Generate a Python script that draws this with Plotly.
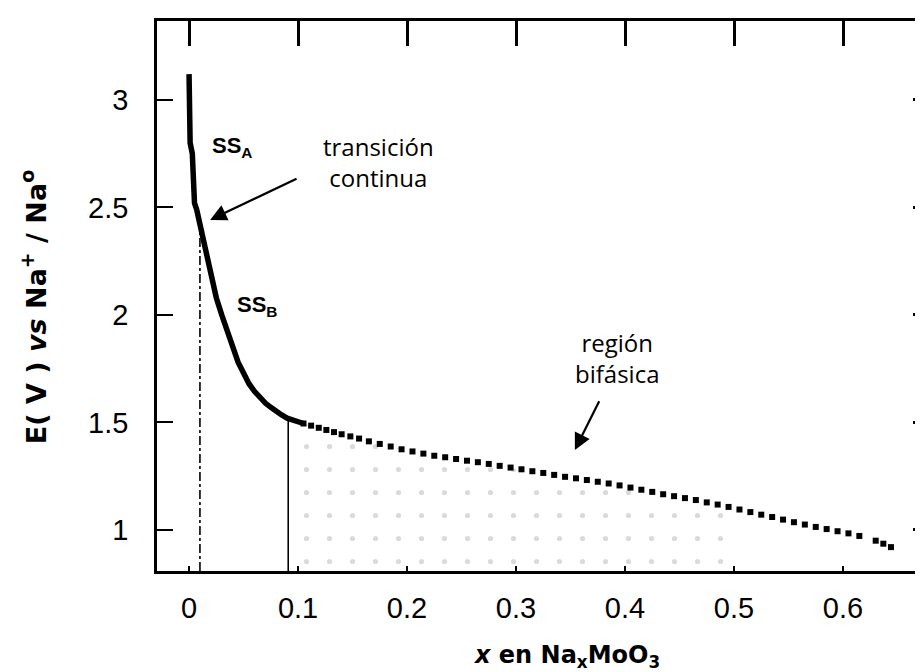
import plotly.graph_objects as go

# ---- data ----
# continuous solid-solution branch (SSA + SSB), dense points drawn as a thick line
x_solid = [0.000, 0.000, 0.0005, 0.001, 0.003, 0.004, 0.005, 0.007, 0.010, 0.013, 0.016,
           0.020, 0.025, 0.030, 0.035, 0.040, 0.045, 0.050, 0.055, 0.060, 0.065,
           0.070, 0.075, 0.080, 0.085, 0.090, 0.095, 0.100, 0.105]
y_solid = [3.12, 3.00, 2.92, 2.80, 2.75, 2.62, 2.52, 2.49, 2.42, 2.36, 2.29,
           2.19, 2.08, 2.00, 1.92, 1.85, 1.78, 1.73, 1.68, 1.645, 1.615,
           1.59, 1.57, 1.55, 1.535, 1.52, 1.51, 1.50, 1.495]

# two-phase region, individual measured points
x_pts = [0.105, 0.112, 0.119, 0.126, 0.133, 0.140, 0.148, 0.156, 0.165, 0.175,
         0.185, 0.195, 0.205, 0.215, 0.225, 0.235, 0.245, 0.255, 0.265, 0.275,
         0.285, 0.295, 0.305, 0.315, 0.325, 0.335, 0.345, 0.355, 0.365, 0.375,
         0.385, 0.395, 0.405, 0.415, 0.425, 0.435, 0.445, 0.455, 0.465, 0.475,
         0.485, 0.495, 0.505, 0.515, 0.525, 0.535, 0.545, 0.555, 0.565, 0.575,
         0.585, 0.595, 0.605, 0.615, 0.630, 0.637, 0.644]
y_pts = [1.495, 1.485, 1.475, 1.465, 1.455, 1.445, 1.435, 1.425, 1.412, 1.400,
         1.388, 1.375, 1.365, 1.355, 1.345, 1.338, 1.330, 1.322, 1.315, 1.307,
         1.298, 1.290, 1.282, 1.273, 1.265, 1.256, 1.247, 1.240, 1.232, 1.224,
         1.216, 1.207, 1.197, 1.187, 1.177, 1.166, 1.157, 1.148, 1.139, 1.128,
         1.118, 1.107, 1.095, 1.083, 1.071, 1.060, 1.048, 1.036, 1.025, 1.014,
         1.004, 0.994, 0.984, 0.972, 0.950, 0.936, 0.920]

# phase boundaries (composition, voltage at the curve)
x_ssa_end, y_ssa_end = 0.010, 2.44
x_ssb_end, y_ssb_end = 0.091, 1.52
x_shade_end = 0.50

x_ticks = [0, 0.1, 0.2, 0.3, 0.4, 0.5, 0.6]
x_ticktext = ["0", "0.1", "0.2", "0.3", "0.4", "0.5", "0.6"]
y_ticks = [1, 1.5, 2, 2.5, 3]
y_ticktext = ["1", "1.5", "2", "2.5", "3"]

x_range = [-0.0294, 0.6734]
y_range = [0.809, 3.367]

# ---- figure ----
fig = go.Figure()

# shaded two-phase area (sparse stipple)
shade_x = [x_ssb_end] + [x for x in x_pts if x <= x_shade_end]
shade_y = [y_ssb_end] + [y for x, y in zip(x_pts, y_pts) if x <= x_shade_end]
fig.add_trace(go.Scatter(
    x=shade_x, y=shade_y, mode="lines", line=dict(width=0),
    fill="tozeroy", fillcolor="rgba(255,255,255,0)",
    fillpattern=dict(shape=".", fgcolor="#b5b5b5", size=23, solidity=0.04, bgcolor="rgba(255,255,255,0)"),
    hoverinfo="skip", showlegend=False))

# boundary lines
fig.add_trace(go.Scatter(x=[x_ssa_end, x_ssa_end], y=[y_range[0], y_ssa_end], mode="lines",
                         line=dict(color="black", width=1.6, dash="dashdot"), showlegend=False))
fig.add_trace(go.Scatter(x=[x_ssb_end, x_ssb_end], y=[y_range[0], y_ssb_end], mode="lines",
                         line=dict(color="black", width=1.6), showlegend=False))

fig.add_trace(go.Scatter(x=x_solid, y=y_solid, mode="lines",
                         line=dict(color="black", width=5.5), showlegend=False))
fig.add_trace(go.Scatter(x=x_pts, y=y_pts, mode="markers",
                         marker=dict(symbol="square", size=6, color="black"), showlegend=False))
# helper trace for the mirrored (top/right) tick axes
fig.add_trace(go.Scatter(x=[None], y=[None], xaxis="x2", yaxis="y2", showlegend=False))

tickfont = dict(family="Liberation Sans, Arial, sans-serif", size=29, color="black")
fig.update_layout(
    width=915, height=664,
    margin=dict(l=149, r=0, t=13, b=101),
    paper_bgcolor="white", plot_bgcolor="white",
    xaxis=dict(range=x_range, tickvals=x_ticks, ticktext=x_ticktext, showgrid=False, zeroline=False,
               showline=True, linecolor="black", linewidth=2.5, mirror=True,
               ticks="inside", ticklen=5, tickwidth=2, tickcolor="black",
               tickfont=tickfont, ticklabelstandoff=9),
    yaxis=dict(range=y_range, tickvals=y_ticks, ticktext=y_ticktext, showgrid=False, zeroline=False,
               showline=True, linecolor="black", linewidth=2.5,
               ticks="inside", ticklen=16, tickwidth=2, tickcolor="black",
               tickfont=tickfont, ticklabelstandoff=20),
    xaxis2=dict(range=x_range, overlaying="x", side="top", tickvals=x_ticks, showticklabels=False,
                showgrid=False, zeroline=False, showline=False,
                ticks="inside", ticklen=25, tickwidth=2.5, tickcolor="black"),
    yaxis2=dict(range=y_range, overlaying="y", side="right", tickvals=y_ticks, showticklabels=False,
                showgrid=False, zeroline=False, showline=False,
                ticks="inside", ticklen=10, tickwidth=2.5, tickcolor="black"),
    showlegend=False,
)

ann_font = dict(family="Open Sans, DejaVu Sans, sans-serif", size=24, color="black")
lbl_font = dict(family="Liberation Sans, Arial, sans-serif", size=22, color="black")

fig.add_annotation(x=0.0394, y=2.78, text="<b>SS<sub>A</sub></b>", showarrow=False, font=lbl_font)
fig.add_annotation(x=0.0624, y=2.04, text="<b>SS<sub>B</sub></b>", showarrow=False, font=lbl_font)
fig.add_annotation(x=0.1734, y=2.71, text="transición<br>continua", showarrow=False, font=ann_font)
fig.add_annotation(x=0.3927, y=1.80, text="región<br>bifásica", showarrow=False, font=ann_font)

# arrows
fig.add_annotation(x=0.0193, y=2.442, ax=0.100, ay=2.637, axref="x", ayref="y", xref="x", yref="y",
                   text="", showarrow=True, arrowhead=2, arrowsize=1.5, arrowwidth=2.2, arrowcolor="black")
fig.add_annotation(x=0.354, y=1.372, ax=0.377, ay=1.605, axref="x", ayref="y", xref="x", yref="y",
                   text="", showarrow=True, arrowhead=2, arrowsize=1.5, arrowwidth=2.2, arrowcolor="black")

# axis titles
fig.add_annotation(xref="paper", yref="paper", x=-0.187, y=0.48, textangle=-90,
                   text="<b>E( V ) <i>vs</i> Na<sup>+</sup> / Na<sup>o</sup></b>", showarrow=False,
                   font=dict(family="DejaVu Sans, sans-serif", size=27, color="black"))
fig.add_annotation(xref="paper", yref="paper", x=0.535, y=-0.155, yanchor="middle",
                   text="<b><i>x</i> en Na<sub>x</sub>MoO<sub>3</sub></b>", showarrow=False,
                   font=dict(family="DejaVu Sans, sans-serif", size=24, color="black"))

fig.write_html("out.html")
